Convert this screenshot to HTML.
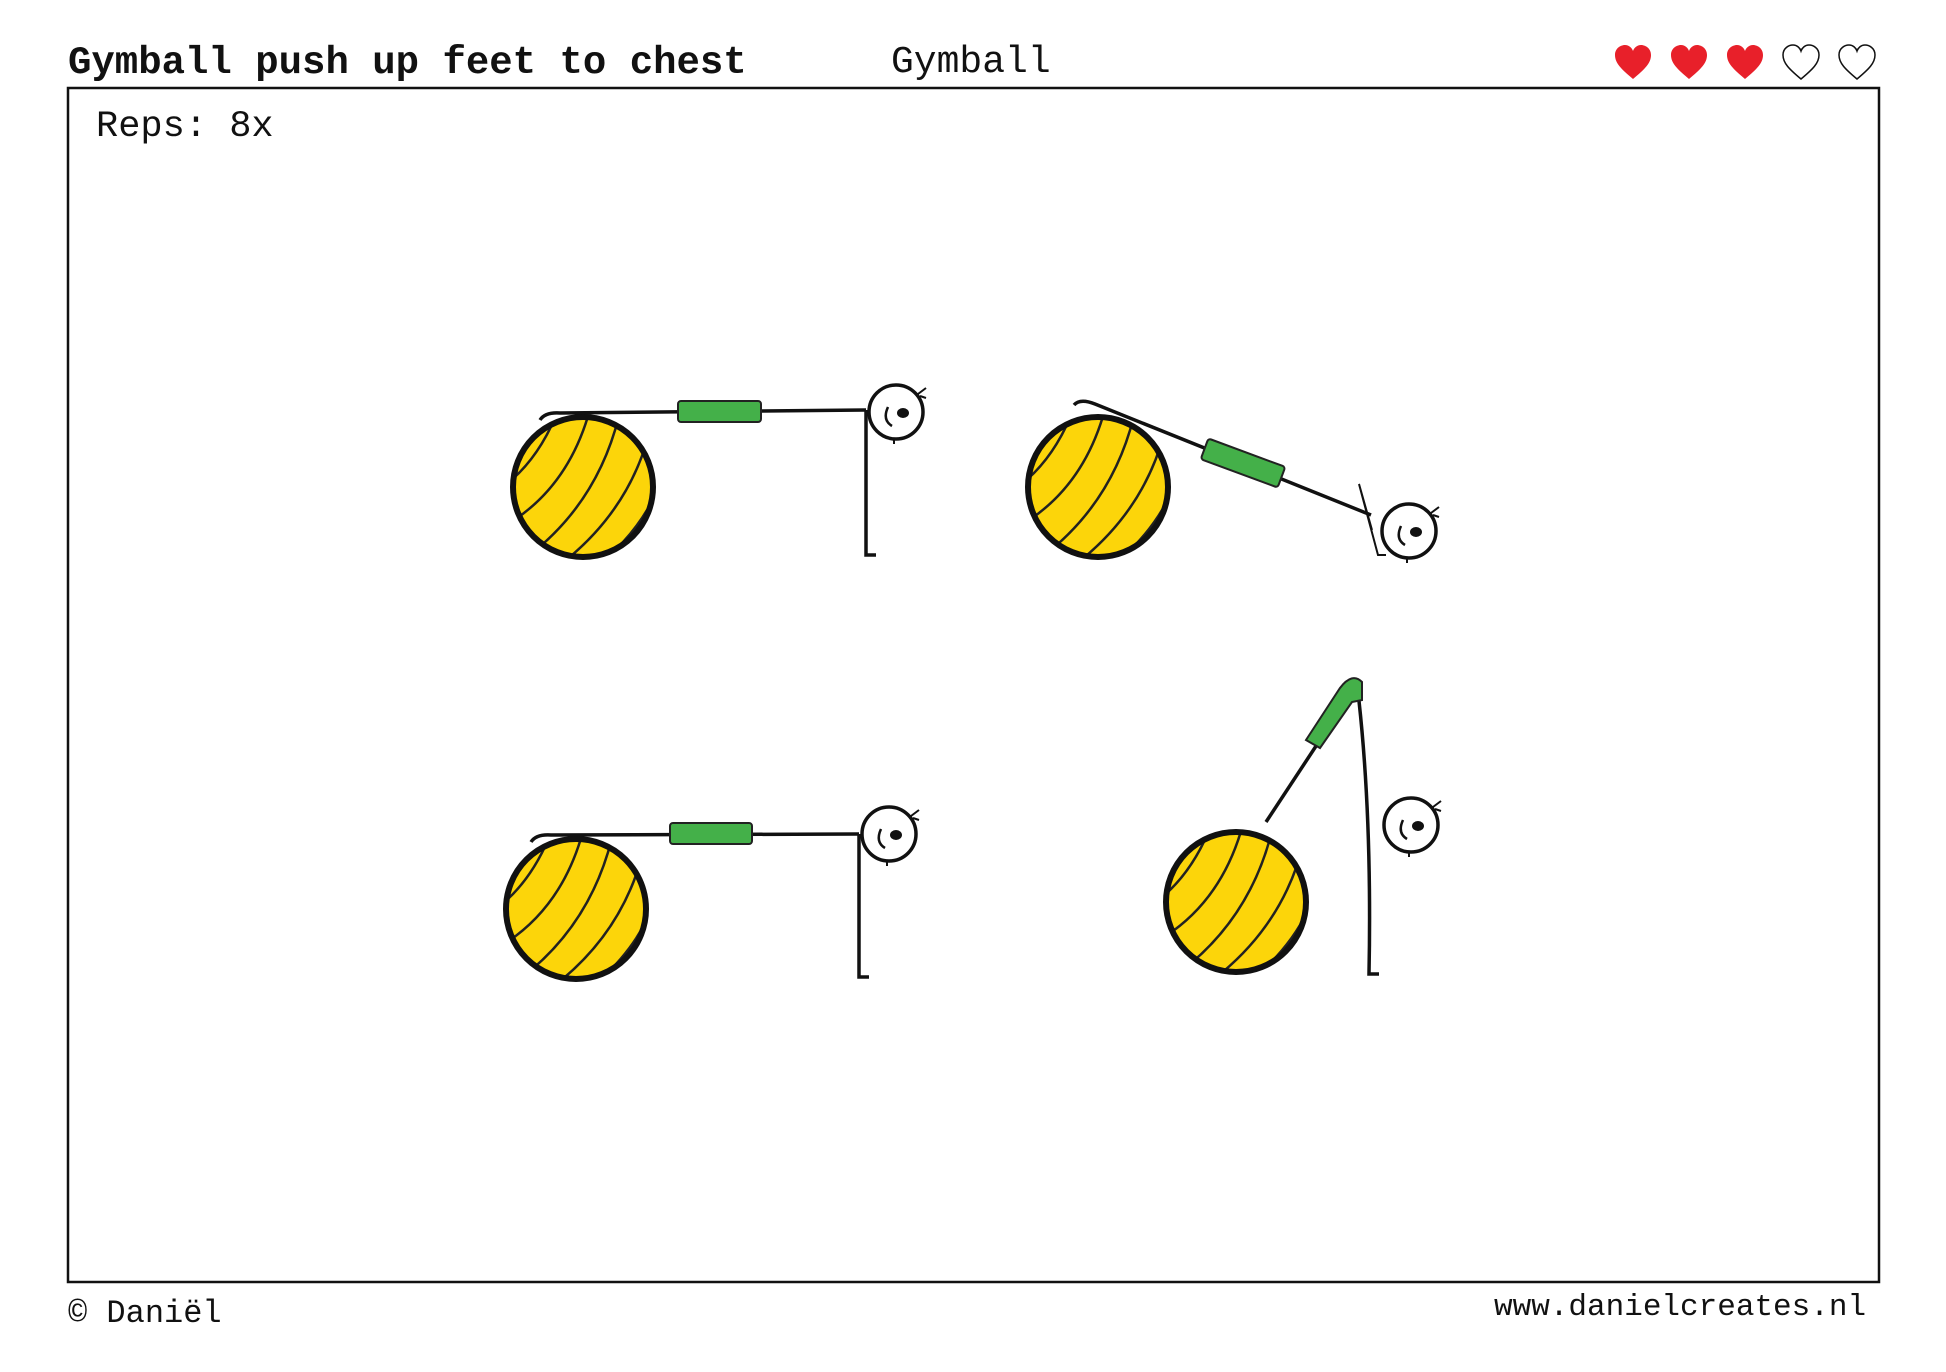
<!DOCTYPE html>
<html><head><meta charset="utf-8"><style>
body{margin:0;width:1946px;height:1372px;background:#fff;position:relative;overflow:hidden;font-family:"Liberation Mono",monospace;color:#111}
.t{position:absolute;white-space:nowrap;line-height:1}
</style></head><body>
<div class="t" style="left:68px;top:44px;font-size:39px;font-weight:bold">Gymball push up feet to chest</div>
<div class="t" style="left:891px;top:44px;font-size:38px">Gymball</div>
<div class="t" style="left:96px;top:109px;font-size:37px">Reps: 8x</div>
<div class="t" style="left:68px;top:1298px;font-size:32px">© Daniël</div>
<div class="t" style="left:1494px;top:1292px;font-size:31px">www.danielcreates.nl</div>
<svg width="1946" height="1372" style="position:absolute;left:0;top:0">
<defs>
<symbol id="heart" viewBox="0 0 40 40"><path d="M20 36 C8 26 2 20 2 12 C2 5 8 2 12 2 C16 2 19 5 20 8 C21 5 24 2 28 2 C32 2 38 5 38 12 C38 20 32 26 20 36Z"/></symbol>
<g id="ball">
<clipPath id="bc"><circle r="70"/></clipPath>
<circle r="70" fill="#fcd50a"/>
<g clip-path="url(#bc)" stroke="#222" stroke-width="2.5" fill="none">
<path d="M-80 0 Q-40 -30 -20 -90"/><path d="M-80 40 Q-10 0 10 -90"/><path d="M-70 80 Q20 20 40 -90"/><path d="M-40 90 Q50 30 70 -70"/><path d="M0 90 Q70 40 85 -30"/><path d="M40 90 Q80 50 95 10"/>
</g>
<circle r="70" fill="none" stroke="#111" stroke-width="6"/>
</g>
<g id="head"><circle r="27" fill="#fff" stroke="#111" stroke-width="3.5"/><ellipse cx="7" cy="1" rx="6" ry="5" fill="#111"/><path d="M-8 -5 Q-14 8 -4 14" fill="none" stroke="#111" stroke-width="2.5"/><path d="M-2 26 l0 6" stroke="#111" stroke-width="2"/><path d="M22 -18 l8 -6 M24 -16 l6 2" stroke="#111" stroke-width="2"/></g>
</defs>
<rect x="68" y="88" width="1811" height="1194" fill="none" stroke="#111" stroke-width="2.5"/>
<g fill="#e8202a"><use href="#heart" x="1613" y="43" width="40" height="40"/><use href="#heart" x="1669" y="43" width="40" height="40"/><use href="#heart" x="1725" y="43" width="40" height="40"/></g>
<g fill="none" stroke="#111" stroke-width="1.5"><use href="#heart" x="1781" y="43" width="40" height="40"/><use href="#heart" x="1837" y="43" width="40" height="40"/></g>
<!-- fig1 -->
<g stroke="#111" stroke-width="3.5" fill="none">
<path d="M540 420 Q545 412 560 413 L866 410"/><path d="M866 410 L866 555 l10 0"/>
</g>
<use href="#ball" x="583" y="487"/>
<rect x="678" y="401" width="83" height="21" rx="3" fill="#44b049" stroke="#222" stroke-width="2"/>
<use href="#head" x="896" y="412"/>
<!-- fig2 -->
<g stroke="#111" stroke-width="3.5" fill="none">
<path d="M1074 405 Q1080 398 1095 404 L1371 515"/><path d="M1359 484 L1378 555 l8 0 M1359 484 L1372 530" stroke-width="2"/>
</g>
<use href="#ball" x="1098" y="487"/>
<rect x="-41" y="-11" width="82" height="22" rx="3" fill="#44b049" stroke="#222" stroke-width="2" transform="translate(1243 463) rotate(20.3)"/>
<use href="#head" x="1409" y="531"/>
<!-- fig3 -->
<g stroke="#111" stroke-width="3.5" fill="none">
<path d="M531 842 Q536 834 551 835 L859 834"/><path d="M859 834 L859 977 l10 0"/>
</g>
<use href="#ball" x="576" y="909"/>
<rect x="670" y="823" width="82" height="21" rx="3" fill="#44b049" stroke="#222" stroke-width="2"/>
<use href="#head" x="889" y="834"/>
<!-- fig4 -->
<g stroke="#111" stroke-width="3.5" fill="none">
<path d="M1266 822 L1320 740"/><path d="M1359 701 Q1372 820 1369 974 l10 0"/>
</g>
<use href="#ball" x="1236" y="902"/>
<path d="M1306 740 L1340 688 Q1352 672 1362 682 L1362 700 L1352 702 L1320 748Z" fill="#44b049" stroke="#222" stroke-width="2"/>
<use href="#head" x="1411" y="825"/>
</svg>
</body></html>
